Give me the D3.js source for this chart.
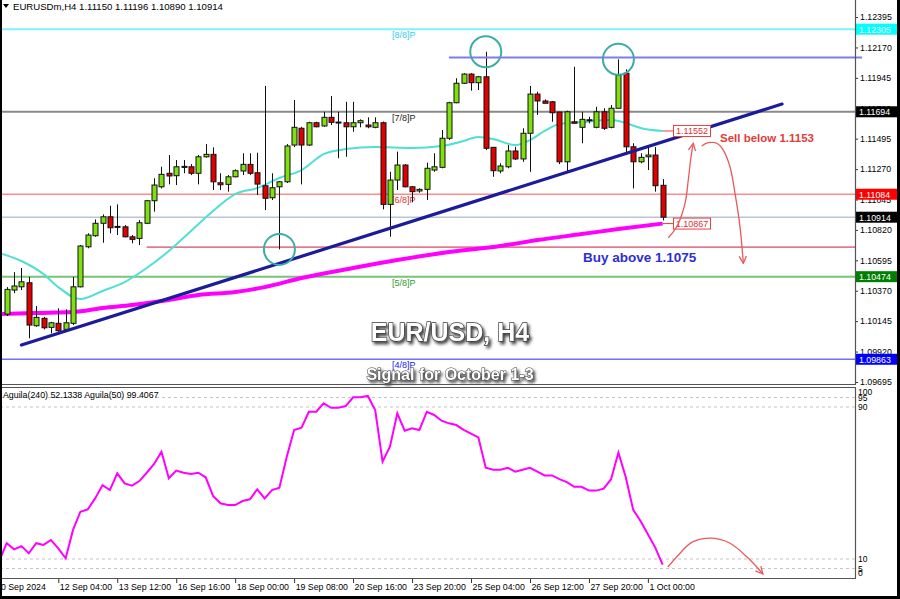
<!DOCTYPE html>
<html><head><meta charset="utf-8">
<script src="https://cdn.jsdelivr.net/npm/d3@7/dist/d3.min.js"></script>
<style>
html,body{margin:0;padding:0;background:#fff;}
svg{display:block;font-family:"Liberation Sans",Arial,sans-serif;}
</style></head><body>
<svg id="chart" width="900" height="599"></svg>
<script>
// ---------------- DATA ----------------
const titleText = "EURUSDm,H4  1.11150 1.11196 1.10890 1.10914";
const indicatorText = "Aguila(240) 52.1338  Aguila(50) 99.4067";
const opens = [1.10197,1.10375,1.10399,1.10429,1.10111,1.10166,1.10099,1.10129,1.10084,1.10129,
1.10399,1.10695,1.10777,1.10869,1.10917,1.10846,1.10843,1.10769,1.10757,1.10869,
1.11036,1.11139,1.11239,1.11221,1.11290,1.11287,1.11239,1.11361,1.11379,1.11169,
1.11157,1.11213,1.11256,1.11305,1.11243,1.11147,1.11058,1.11139,1.11176,1.11448,
1.11572,1.11448,1.11613,1.11589,1.11653,1.11618,1.11613,1.11583,1.11613,1.11596,
1.11579,1.11613,1.11009,1.11189,1.11300,1.11139,1.11108,1.11120,1.11263,1.11283,
1.11498,1.11761,1.11905,1.11973,1.11909,1.11953,1.11431,1.11256,1.11287,1.11404,
1.11345,1.11535,1.11825,1.11774,1.11768,1.11692,1.11324,1.11620,1.11579,1.11635,
1.11579,1.11694,1.11579,1.11720,1.11979,1.11435,1.11324,1.11361,1.11374,1.11150];
const highs = [1.10397,1.10508,1.10538,1.10473,1.10257,1.10177,1.10140,1.10240,1.10232,1.10473,
1.10708,1.10795,1.10898,1.10935,1.10999,1.11009,1.10856,1.10782,1.10893,1.11041,
1.11202,1.11287,1.11374,1.11337,1.11337,1.11307,1.11374,1.11455,1.11431,1.11239,
1.11226,1.11268,1.11387,1.11387,1.11391,1.11885,1.11239,1.11182,1.11455,1.11781,
1.11583,1.11620,1.11620,1.11694,1.11811,1.11694,1.11768,1.11768,1.11638,1.11653,
1.11653,1.11622,1.11250,1.11399,1.11307,1.11145,1.11128,1.11317,1.11387,1.11559,
1.11768,1.11942,1.11979,1.11979,1.11959,1.12138,1.11431,1.11313,1.11448,1.11435,
1.11572,1.11885,1.11842,1.11786,1.11774,1.11694,1.11702,1.12027,1.11694,1.11657,
1.11731,1.11720,1.11744,1.12082,1.12008,1.11461,1.11387,1.11435,1.11433,1.11196];
const lows = [1.10183,1.10353,1.10375,1.10018,1.10103,1.10084,1.10055,1.10066,1.10066,1.10116,
1.10395,1.10684,1.10769,1.10725,1.10795,1.10782,1.10765,1.10721,1.10708,1.10863,
1.10955,1.11127,1.11157,1.11152,1.11239,1.11226,1.11157,1.11355,1.11115,1.11115,
1.11103,1.11209,1.11226,1.11226,1.11078,1.10967,1.11041,1.10676,1.11167,1.11433,
1.11157,1.11441,1.11579,1.11583,1.11596,1.11350,1.11361,1.11546,1.11579,1.11572,
1.11572,1.10972,1.10769,1.11115,1.11135,1.11024,1.11095,1.11041,1.11250,1.11276,
1.11485,1.11757,1.11899,1.11850,1.11855,1.11411,1.11213,1.11239,1.11276,1.11337,
1.11324,1.11250,1.11670,1.11757,1.11620,1.11307,1.11250,1.11609,1.11461,1.11609,
1.11572,1.11559,1.11572,1.11720,1.11374,1.11127,1.11313,1.11263,1.11103,1.10890];
const closes = [1.10380,1.10405,1.10436,1.10116,1.10173,1.10096,1.10133,1.10074,1.10133,1.10399,
1.10701,1.10782,1.10869,1.10917,1.10836,1.10841,1.10769,1.10750,1.10873,1.11036,
1.11152,1.11231,1.11219,1.11287,1.11285,1.11239,1.11361,1.11379,1.11176,1.11154,
1.11213,1.11258,1.11305,1.11239,1.11159,1.11054,1.11132,1.11176,1.11441,1.11579,
1.11448,1.11613,1.11583,1.11653,1.11616,1.11613,1.11583,1.11613,1.11628,1.11583,
1.11613,1.11009,1.11189,1.11300,1.11139,1.11103,1.11120,1.11276,1.11287,1.11498,
1.11761,1.11905,1.11973,1.11909,1.11953,1.11424,1.11258,1.11293,1.11404,1.11345,
1.11535,1.11825,1.11774,1.11757,1.11687,1.11324,1.11694,1.11609,1.11638,1.11631,
1.11694,1.11572,1.11720,1.11966,1.11435,1.11324,1.11357,1.11374,1.11147,1.10914];

// fast moving average (cyan), read at bar indexes
const maFastIdx = [-1,2,5,7,10,13,16,19,22,25,28,31,34,37,40,43,46,50,55,59,62,64,66,69,71,73,75,78,82,84,86,89];
const maFastVal = [1.10649,1.10590,1.10493,1.10397,1.10308,1.10368,1.10434,1.10538,1.10664,1.10812,1.10960,1.11085,1.11130,1.11204,1.11263,1.11381,1.11418,1.11433,1.11426,1.11441,1.11478,1.11507,1.11492,1.11448,1.11485,1.11552,1.11603,1.11618,1.11633,1.11611,1.11574,1.11552];
// slow moving average (magenta)
const maSlowIdx = [-1,4,9,13,17,22,26,31,35,40,47,53,60,67,72,78,83,89];
const maSlowVal = [1.10197,1.10205,1.10212,1.10242,1.10264,1.10301,1.10338,1.10360,1.10397,1.10464,1.10538,1.10597,1.10656,1.10701,1.10745,1.10789,1.10826,1.10867];

// Aguila oscillator, bar -1 .. 89
const aguilaStart = -1;
const aguila = [9,18.3,15.1,16.8,13,18.3,17.4,20,15.6,10.4,25.3,34.9,36.1,41.9,48.9,46.3,55.1,49.8,48.6,51,
55.4,60,66.5,52.5,56.5,55.4,54.7,55.4,53,43.2,39.3,38.4,38.4,40.5,41.4,46.7,41.9,46.3,47.5,63.8,
77.9,79.1,87.5,87.5,91.9,89.6,89.6,90.5,95.1,95.1,95.8,88.4,61.2,69.1,86.7,77.5,78.8,77.9,87.5,85.8,
82.8,81.4,80.5,78,76,74,58,57,57,58,56,57,58,56,54,54,52,50.5,48,48,
46,46,47,52,66,53,36,30,23,16,7];

const priceTicks = [1.12395,1.12170,1.11945,1.11720,1.11495,1.11270,1.11045,1.10820,1.10595,1.10370,1.10145,1.09920,1.09695];
const timeTickIdx = [7,15,23,31,39,47,55,63,71,79,87];
const timeTickLabels = ["12 Sep 04:00","13 Sep 12:00","16 Sep 16:00","18 Sep 00:00","19 Sep 08:00","20 Sep 16:00","23 Sep 20:00","25 Sep 04:00","26 Sep 12:00","27 Sep 20:00","1 Oct 00:00"];
const firstDateLabel = "10 Sep 2024";

const levelNames = ["[8/8]P","[7/8]P","[6/8]P","[5/8]P","[4/8]P"];
const levelValues = [1.12305,1.11694,1.11084,1.10474,1.09863];
const lastPrice = 1.10914;
const resistance = 1.12095, resistanceFromIdx = 60;
const support = 1.10693, supportFromIdx = 19;
const trendIdx = [2, 105.2];
const trendVal = [1.09968, 1.11751];
const circledBars = [37, 65, 83];
const circledSide = ["low","high","high"];
const oscLevels = [95, 90, 10, 5];
const oscLabels = [100, 95, 90, 10, 5, 0];

const upArrowIdx = [89.77,90.91,92.04,92.48,92.85,93.16];
const upArrowVal = [1.10762,1.10843,1.11017,1.11189,1.11361,1.11461];
const downArrowIdx = [94.30,95.20,96.34,97.23,98.14,98.82,99.50,99.95];
const downArrowVal = [1.11441,1.11465,1.11461,1.11411,1.11287,1.11091,1.10843,1.10572];
const oscArrowIdx = [89.7,91.4,93.0,95.7,98.1,100.6,102.6];
const oscArrowVal = [5.8,13.2,18.9,21,18.4,10.5,2.1];

// ---------------- LAYOUT ----------------
const svg = d3.select("#chart");
const plotR = 855, mainTop = 5, mainBot = 384, oscTop = 388, oscBot = 578;
const x = d3.scaleLinear().domain([-0.909, -0.909 + plotR/7.37]).range([0, plotR]);
const y = d3.scaleLinear().domain([1.0968, 1.12484]).range([mainBot, mainTop]);
const yo = d3.scaleLinear().domain([0, 100]).range([oscBot, oscTop]);

const defs = svg.append("defs");
defs.append("clipPath").attr("id","clipMain").append("rect").attr("x",0).attr("y",mainTop-5).attr("width",plotR).attr("height",mainBot-mainTop+5);
defs.append("clipPath").attr("id","clipOsc").append("rect").attr("x",0).attr("y",oscTop).attr("width",plotR).attr("height",oscBot-oscTop);
const f = defs.append("filter").attr("id","shadow").attr("x","-20%").attr("y","-40%").attr("width","140%").attr("height","180%");
f.append("feDropShadow").attr("dx",2).attr("dy",2.5).attr("stdDeviation",1.4).attr("flood-color","#000").attr("flood-opacity",0.75);
defs.append("marker").attr("id","arrowRed").attr("viewBox","0 0 10 10").attr("refX",9).attr("refY",5)
  .attr("markerWidth",7).attr("markerHeight",7).attr("orient","auto")
  .append("path").attr("d","M1,1 L9,5 L1,9").attr("fill","none").attr("stroke","#e8595a").attr("stroke-width",1.4);

svg.append("rect").attr("width",900).attr("height",599).attr("fill","#fff");

const main = svg.append("g").attr("clip-path","url(#clipMain)");

// horizontal murrey levels
const levelColors = ["#7ff3f7","#8a8a8a","#ff8c8c","#78c478","#7070ff"];
const levelWidths = [2,2,1.6,2,1.6];
const levelTextColors = ["#33ccee","#222","#e03030","#2e9a2e","#2020ee"];
levelValues.forEach((v,k)=>{
  main.append("line").attr("x1",0).attr("x2",plotR).attr("y1",y(v)).attr("y2",y(v))
    .attr("stroke",levelColors[k]).attr("stroke-width",levelWidths[k]);
  main.append("text").attr("x",392).attr("y",y(v)+9).text(levelNames[k])
    .attr("font-size",9).attr("fill",levelTextColors[k]);
});
// current price line
main.append("line").attr("x1",0).attr("x2",plotR).attr("y1",y(lastPrice)).attr("y2",y(lastPrice))
  .attr("stroke","#b9c4d6").attr("stroke-width",1.5);
// support line
main.append("line").attr("x1",x(supportFromIdx)).attr("x2",plotR).attr("y1",y(support)).attr("y2",y(support))
  .attr("stroke","#d0173c").attr("stroke-width",1);

// moving averages
const lineGen = d3.line().curve(d3.curveMonotoneX);
main.append("path").attr("d", lineGen(maFastIdx.map((d,k)=>[x(d), y(maFastVal[k])])))
  .attr("fill","none").attr("stroke","#4fe0d4").attr("stroke-width",2);
main.append("path").attr("d", lineGen(maSlowIdx.map((d,k)=>[x(d), y(maSlowVal[k])])))
  .attr("fill","none").attr("stroke","#ff00ff").attr("stroke-width",4);

// candles
const candles = main.append("g");
opens.forEach((o,i)=>{
  const c = closes[i], cx = Math.round(x(i)) + 0.5;
  candles.append("line").attr("x1",cx).attr("x2",cx).attr("y1",y(highs[i])).attr("y2",y(lows[i]))
    .attr("stroke","#111").attr("stroke-width",1);
  const top = y(Math.max(o,c)), bot = y(Math.min(o,c));
  candles.append("rect").attr("x",cx-2.5).attr("y",top).attr("width",5).attr("height",Math.max(1,bot-top))
    .attr("fill", c>=o ? "#7fe010" : "#e00000").attr("stroke","#111").attr("stroke-width",1);
});

// trend line
main.append("line").attr("x1",x(trendIdx[0])).attr("y1",y(trendVal[0])).attr("x2",x(trendIdx[1])).attr("y2",y(trendVal[1]))
  .attr("stroke","#1c1c9a").attr("stroke-width",3.2).attr("stroke-linecap","round");

// circles
circledBars.forEach((b,k)=>{
  const v = circledSide[k]==="low" ? lows[b] : highs[b];
  main.append("circle").attr("cx",x(b)).attr("cy",y(v)).attr("r",15.5)
    .attr("fill","none").attr("stroke","#3aaea4").attr("stroke-width",2);
});

// resistance (unclipped, slightly past axis)
svg.append("line").attr("x1",x(resistanceFromIdx)).attr("x2",862).attr("y1",y(resistance)).attr("y2",y(resistance))
  .attr("stroke","#7d7df0").attr("stroke-width",2);

// price labels for the MAs
[[maFastVal[maFastVal.length-1]],[maSlowVal[maSlowVal.length-1]]].forEach(([v])=>{
  const yy = y(v);
  svg.append("line").attr("x1",x(89)).attr("x2",673).attr("y1",yy).attr("y2",yy).attr("stroke","#e84040").attr("stroke-width",1);
  svg.append("rect").attr("x",673.5).attr("y",yy-5.5).attr("width",37).attr("height",11)
    .attr("fill","#fff").attr("stroke","#e84040").attr("stroke-width",1);
  svg.append("text").attr("x",692).attr("y",yy+3.5).attr("text-anchor","middle").attr("font-size",9)
    .attr("fill","#e03030").text(d3.format(".5f")(v));
});

// annotation arrows
const smooth = d3.line().curve(d3.curveCatmullRom);
svg.append("path").attr("d", smooth(upArrowIdx.map((d,k)=>[x(d), y(upArrowVal[k])])))
  .attr("fill","none").attr("stroke","#e8595a").attr("stroke-width",1.3).attr("marker-end","url(#arrowRed)");
svg.append("path").attr("d", smooth(downArrowIdx.map((d,k)=>[x(d), y(downArrowVal[k])])))
  .attr("fill","none").attr("stroke","#e8595a").attr("stroke-width",1.3).attr("marker-end","url(#arrowRed)");

// annotation texts
svg.append("text").attr("x",720).attr("y",141.5).attr("font-size",11.5).attr("font-weight","bold")
  .attr("fill","#e23b3b").text("Sell below 1.1153");
svg.append("text").attr("x",583).attr("y",262).attr("font-size",13.5).attr("font-weight","bold")
  .attr("fill","#2e2ed2").text("Buy above 1.1075");

// big labels
svg.append("text").attr("x",450).attr("y",341).attr("text-anchor","middle").attr("font-size",25)
  .attr("font-weight","bold").attr("fill","#fff").attr("stroke","#3a3a3a").attr("stroke-width",1.3)
  .attr("paint-order","stroke").attr("filter","url(#shadow)").text("EUR/USD, H4");
svg.append("text").attr("x",450).attr("y",380).attr("text-anchor","middle").attr("font-size",16)
  .attr("font-weight","bold").attr("fill","#fff").attr("stroke","#3a3a3a").attr("stroke-width",1)
  .attr("paint-order","stroke").attr("filter","url(#shadow)").text("Signal for October 1-3");

// title
svg.append("path").attr("d","M3,4 L9,4 L6,8 Z").attr("fill","#000");
svg.append("text").attr("x",13).attr("y",9.5).attr("font-size",9.6).attr("fill","#000").text(titleText);

// right price axis
const yAxis = svg.append("g").attr("transform",`translate(${plotR},0)`)
  .call(d3.axisRight(y).tickValues(priceTicks).tickSize(3).tickFormat(d3.format(".5f")));
yAxis.select(".domain").remove();
yAxis.selectAll("line").attr("stroke","#333");
yAxis.selectAll("text").attr("font-size",8.8).attr("font-family","Liberation Sans, Arial").attr("fill","#000").attr("x",5);

// price boxes on axis
const boxColors = ["#00ffff","#000","#ff0000","#008000","#0000ff"];
[...levelValues, lastPrice].forEach((v,k)=>{
  const bg = k<5 ? boxColors[k] : "#000";
  svg.append("rect").attr("x",plotR+1).attr("y",y(v)-5.5).attr("width",41).attr("height",11).attr("fill",bg);
  svg.append("text").attr("x",plotR+4).attr("y",y(v)+3.5).attr("font-size",8.8).attr("fill","#fff").text(d3.format(".5f")(v));
});

// panel borders
svg.append("line").attr("x1",plotR+0.5).attr("x2",plotR+0.5).attr("y1",0).attr("y2",mainBot).attr("stroke","#555").attr("stroke-width",1.2);
svg.append("line").attr("x1",0).attr("x2",plotR+1).attr("y1",mainBot+0.5).attr("y2",mainBot+0.5).attr("stroke","#555").attr("stroke-width",1.2);
svg.append("line").attr("x1",0).attr("x2",plotR+1).attr("y1",oscTop-0.5).attr("y2",oscTop-0.5).attr("stroke","#555").attr("stroke-width",1.2);
svg.append("line").attr("x1",plotR+0.5).attr("x2",plotR+0.5).attr("y1",oscTop).attr("y2",oscBot).attr("stroke","#555").attr("stroke-width",1.2);
svg.append("line").attr("x1",0).attr("x2",plotR+1).attr("y1",oscBot+0.5).attr("y2",oscBot+0.5).attr("stroke","#555").attr("stroke-width",1.2);

// oscillator
const osc = svg.append("g").attr("clip-path","url(#clipOsc)");
oscLevels.forEach(v=>{
  osc.append("line").attr("x1",0).attr("x2",plotR).attr("y1",yo(v)).attr("y2",yo(v))
    .attr("stroke","#c4c4c4").attr("stroke-dasharray","3,3").attr("stroke-width",1);
});
osc.append("path").attr("d", d3.line()(aguila.map((v,k)=>[x(k+aguilaStart), yo(v)])))
  .attr("fill","none").attr("stroke","#ff00ff").attr("stroke-width",2);
svg.append("path").attr("d", smooth(oscArrowIdx.map((d,k)=>[x(d), yo(oscArrowVal[k])])))
  .attr("fill","none").attr("stroke","#e8595a").attr("stroke-width",1.3).attr("marker-end","url(#arrowRed)");
svg.append("text").attr("x",3).attr("y",oscTop+10).attr("font-size",8.8).attr("fill","#000").text(indicatorText);
oscLabels.forEach(v=>{
  const dy = v===100 ? 7 : (v===0 ? -2 : 3);
  svg.append("text").attr("x",plotR+3).attr("y",yo(v)+dy).attr("font-size",8.5).attr("fill","#000").text(v);
});

// bottom time axis
const xAxis = svg.append("g").attr("transform",`translate(0,${oscBot+1})`)
  .call(d3.axisBottom(x).tickValues(timeTickIdx).tickSize(4).tickFormat((d,k)=>timeTickLabels[k]));
xAxis.select(".domain").remove();
xAxis.selectAll("line").attr("stroke","#333");
xAxis.selectAll("text").attr("font-size",8.8).attr("font-family","Liberation Sans, Arial").attr("fill","#000")
  .attr("text-anchor","start").attr("dx",1).attr("dy",0).attr("y",11);
svg.append("text").attr("x",-4).attr("y",oscBot+12).attr("font-size",8.8).attr("fill","#000").text(firstDateLabel);

// window frame
svg.append("rect").attr("x",0).attr("y",0).attr("width",2).attr("height",599).attr("fill","#000");
svg.append("rect").attr("x",0).attr("y",596).attr("width",900).attr("height",3).attr("fill","#000");
svg.append("rect").attr("x",897).attr("y",0).attr("width",3).attr("height",599).attr("fill","#000");
</script>
</body></html>
